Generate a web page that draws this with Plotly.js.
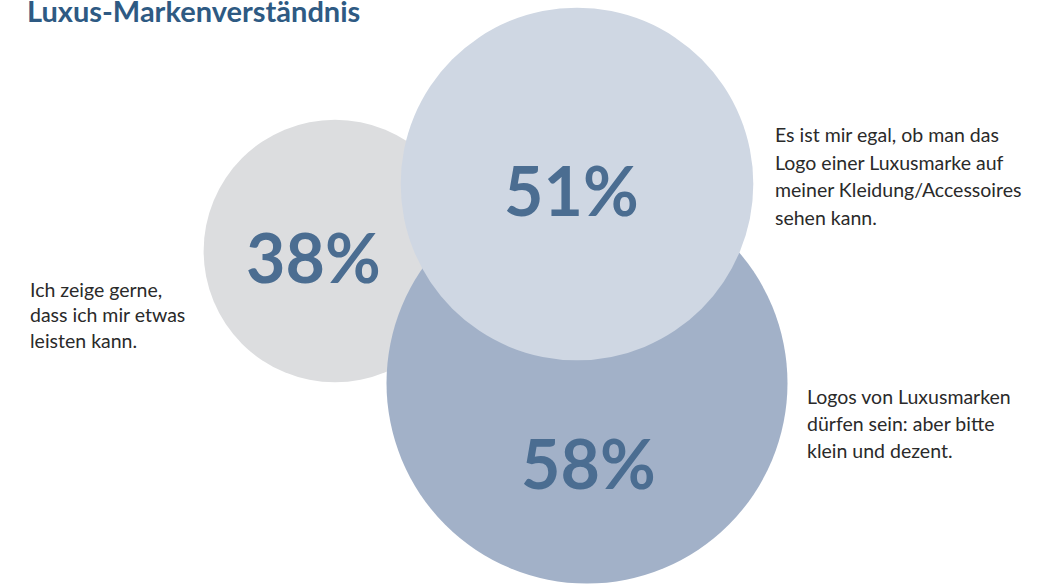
<!DOCTYPE html>
<html>
<head>
<meta charset="utf-8">
<script src="https://cdn.plot.ly/plotly-3.0.1.min.js"></script>
<style>html,body{margin:0;padding:0;background:#fff;}#chart{width:1042px;height:584px;}</style>
</head>
<body>
<div id="chart"></div>
<script>
// Data (draw order: back to front)
const statements = [
  ["Ich zeige gerne,", "dass ich mir etwas", "leisten kann."],
  ["Logos von Luxusmarken", "dürfen sein: aber bitte", "klein und dezent."],
  ["Es ist mir egal, ob man das", "Logo einer Luxusmarke auf", "meiner Kleidung/Accessoires", "sehen kann."]
];
const values = [38, 58, 51];
const valueLabels = ["38%", "58%", "51%"];
const chartTitle = "Luxus-Markenverständnis";

// Layout (bubble placement in pixel space of the plot)
const bubbleX = [335, 587, 577];
const bubbleY = [251, 383, 184];
const labelX = [313, 588, 571];
const labelY = [256.5, 462, 189];
const textX = [28, 805, 773];
const textFirstBaseline = [297, 404, 142];
const textLineStep = [25.5, 26.8, 27.6];
const colors = ["#dcdddf", "#a2b1c8", "#cfd7e3"];

const maxDiameter = 401;
const bodySize = 19.5;
const titleSize = 29;
const fontFam = "Lato, 'Open Sans', sans-serif";

const trace = {
  type: "scatter",
  mode: "markers",
  x: bubbleX,
  y: bubbleY,
  hoverinfo: "skip",
  marker: {
    size: values,
    sizemode: "diameter",
    sizeref: Math.max(...values) / maxDiameter,
    color: colors,
    opacity: 1,
    line: {width: 0}
  }
};

const annotations = [];
values.forEach((v, i) => {
  annotations.push({
    x: labelX[i], y: labelY[i], xref: "x", yref: "y",
    text: "<b>" + valueLabels[i] + "</b>", showarrow: false,
    xanchor: "center", yanchor: "middle",
    font: {family: fontFam, size: 68, color: "#4b6d91"}
  });
  statements[i].forEach((line, j) => {
    const baseline = textFirstBaseline[i] + j * textLineStep[i];
    annotations.push({
      x: textX[i], y: baseline - 0.387 * bodySize, xref: "x", yref: "y",
      text: line, showarrow: false, align: "left",
      xanchor: "left", yanchor: "middle",
      font: {family: fontFam, size: bodySize, color: "#2a2a2a"}
    });
  });
});
annotations.push({
  x: 25, y: 22 - 0.387 * titleSize, xref: "x", yref: "y",
  text: "<b>" + chartTitle + "</b>", showarrow: false,
  xanchor: "left", yanchor: "middle",
  font: {family: fontFam, size: titleSize, color: "#2e5a83"}
});

const layout = {
  width: 1042, height: 584,
  margin: {l: 0, r: 0, t: 0, b: 0},
  paper_bgcolor: "#ffffff", plot_bgcolor: "#ffffff",
  showlegend: false,
  xaxis: {range: [0, 1042], visible: false, fixedrange: true},
  yaxis: {range: [584, 0], visible: false, fixedrange: true},
  annotations: annotations
};

Plotly.newPlot("chart", [trace], layout, {displayModeBar: false, staticPlot: true});
</script>
</body>
</html>
